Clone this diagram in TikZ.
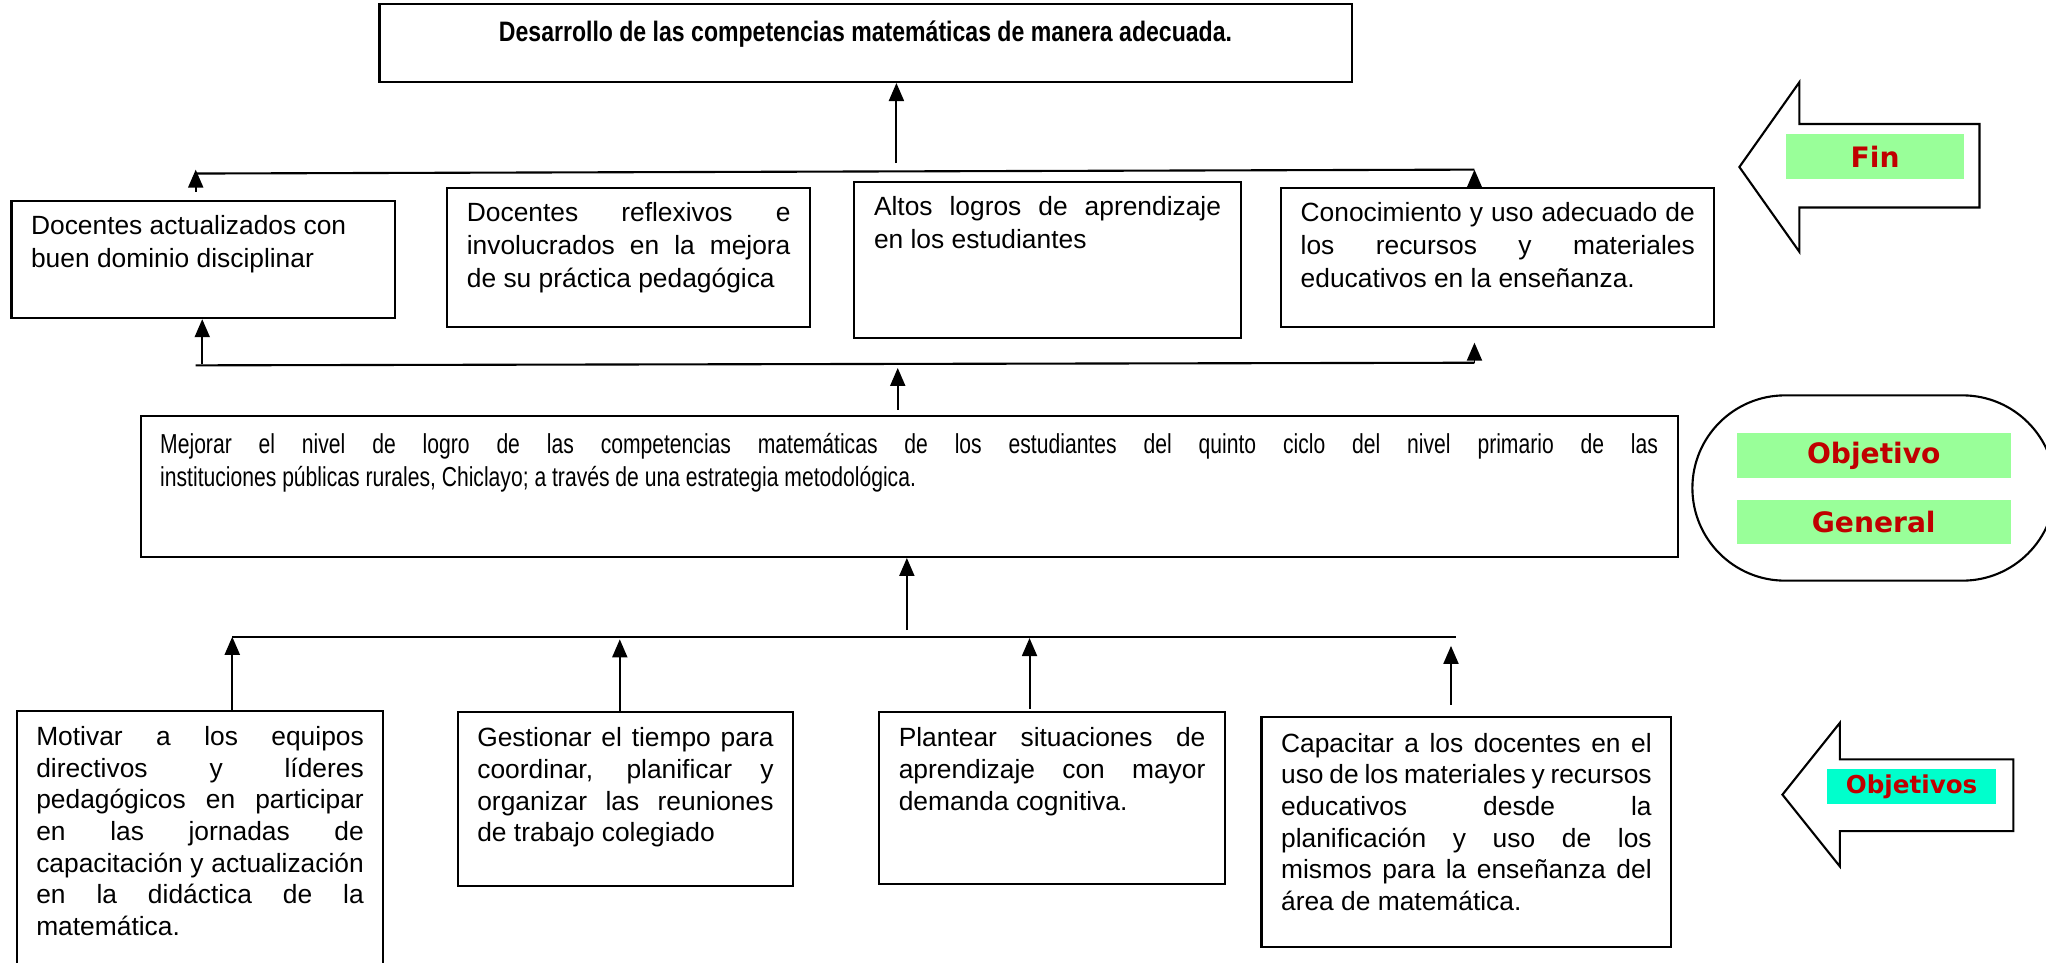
\documentclass[tikz,border=0pt]{standalone}
\usepackage{fontspec}
\setmainfont{Liberation Sans}
\newfontfamily\estrecha[FakeStretch=0.82]{Liberation Sans}
\newfontfamily\angosta[FakeStretch=0.77]{Liberation Sans}
\newfontfamily\rotulos{DejaVu Sans}
\usetikzlibrary{arrows.meta}
\definecolor{verdeclaro}{HTML}{99FF99}
\definecolor{turquesa}{HTML}{00FFCC}
\definecolor{rojooscuro}{HTML}{C00000}
\newlength{\unid}
\setlength{\unid}{0.01305cm}
\hbadness=10000
\newcommand{\caja}[6][]{
  \node[caja,#1] (#2) at (#3) {\parbox[c][#5\unid][t]{#4\unid}{#6}};
}
\tikzset{
  caja/.style={draw, line width=0.6pt, anchor=north west, inner xsep=15\unid, inner ysep=11\unid},
  fila/.style={font=\fontsize{7.5}{9.4}\selectfont},
  inferior/.style={font=\fontsize{7.5}{9.0}\selectfont, inner ysep=12\unid},
  linea/.style={line width=0.6pt},
  flecha/.style={line width=0.55pt, -{Triangle[length=1.8mm,width=1.5mm]}},
  bloque/.style={draw, line width=0.6pt, fill=white},
  rotulo/.style={fill=verdeclaro, text=rojooscuro, inner sep=0pt, font=\rotulos\bfseries\fontsize{8}{9.6}\selectfont}
}

\begin{document}
\begin{tikzpicture}[x=0.01305cm, y=-0.01305cm]
  \clip (0,0) rectangle (1568,738);
  \caja[inner ysep=13\unid, font=\estrecha\bfseries\fontsize{8}{9.6}\selectfont]{titulo}{290,2}{715}{34}{\centering Desarrollo de las competencias matemáticas de manera adecuada.}
  \caja[fila]{f1}{8,153}{264}{68}{Docentes actualizados con\newline buen dominio disciplinar}
  \caja[fila]{f2}{342,143}{248}{85}{Docentes reflexivos e\linebreak involucrados en la mejora\linebreak de su práctica pedagógica}
  \caja[fila]{f3}{654,139}{266}{97}{Altos logros de aprendizaje\linebreak en los estudiantes}
  \caja[fila]{f4}{981,143}{302}{85}{Conocimiento y uso adecuado de\linebreak los recursos y materiales\linebreak educativos en la enseñanza.}
  \caja[inner ysep=13\unid, font=\angosta\fontsize{7.8}{9.6}\selectfont]{general}{107,318}{1148}{82}{Mejorar el nivel de logro de las competencias matemáticas de los estudiantes del quinto ciclo del nivel primario de las\linebreak instituciones públicas rurales, Chiclayo; a través de una estrategia metodológica.}
  \caja[inferior]{o1}{12,544}{251}{192}{Motivar a los equipos\linebreak directivos y líderes\linebreak pedagógicos en participar\linebreak en las jornadas de\linebreak capacitación y actualización\linebreak en la didáctica de la\linebreak matemática.}
  \caja[inferior]{o2}{350,545}{227}{109}{Gestionar el tiempo para\linebreak coordinar, planificar y\linebreak organizar las reuniones\linebreak de trabajo colegiado}
  \caja[inferior]{o3}{673,545}{235}{108}{Plantear situaciones de\linebreak aprendizaje con mayor\linebreak demanda cognitiva.}
  \caja[inferior]{o4}{966,549}{284}{152}{Capacitar a los docentes en el\linebreak uso de los materiales y recursos\linebreak educativos desde la\linebreak planificación y uso de los\linebreak mismos para la enseñanza del\linebreak área de matemática.}

  \coordinate (s1i) at (150,133);
  \coordinate (s1d) at (1130,130);
  \coordinate (p1) at (150,130);
  \coordinate (c1) at (687,125);
  \draw[linea] (s1i) -- (s1d);
  \draw[flecha, shorten <=6\unid] (f1.north -| p1) -- (p1);
  \draw[flecha, shorten <=-5\unid] (f4.north -| s1d) -- (s1d);
  \draw[flecha] (c1) -- (c1 |- titulo.south);

  \coordinate (s2i) at (150,280);
  \coordinate (s2d) at (1130,278);
  \coordinate (q1) at (155,279);
  \coordinate (c2) at (688,314);
  \draw[linea] (s2i) -- (s2d);
  \draw[flecha] (q1) -- (q1 |- f1.south);
  \draw[flecha, shorten >=11\unid] (s2d) -- (s2d |- f4.south);
  \draw[flecha, shorten >=4\unid] (c2) -- (c2 |- s2d);

  \coordinate (s3i) at (178,488);
  \coordinate (s3d) at (1116,488);
  \coordinate (c3) at (695,483);
  \draw[linea] (s3i) -- (s3d);
  \draw[flecha] (c3) -- (c3 |- general.south);
  \foreach \n/\x/\a/\t in {o1/178/0/0, o2/475/0/2, o3/789/2/1, o4/1112/9/7}
    \draw[flecha, shorten <=\a\unid, shorten >=\t\unid] (\n.north -| \x,0) -- (\x,0 |- s3i);

  \draw[bloque] (1333,128) -- (1379,63) -- (1379,95) -- (1517,95) -- (1517,159) -- (1379,159) -- (1379,193) -- cycle;
  \node[rotulo, minimum width=136\unid, minimum height=34\unid] (etqfin) at (1437,120) {Fin};
  \draw[bloque, rounded corners=71\unid] (1297,303) rectangle (1575,445);
  \node[rotulo, minimum width=210\unid, minimum height=34\unid] (etqobj) at (1436,349) {Objetivo};
  \node[rotulo, minimum width=210\unid, minimum height=34\unid] (etqgen) at (1436,400) {General};
  \draw[bloque] (1366,609) -- (1410,554) -- (1410,582) -- (1543,582) -- (1543,637) -- (1410,637) -- (1410,664) -- cycle;
  \node[rotulo, fill=turquesa, minimum width=130\unid, minimum height=27\unid, font=\rotulos\bfseries\fontsize{7}{8.4}\selectfont] (etqobjs) at (1465,603) {Objetivos};
\end{tikzpicture}
\end{document}
